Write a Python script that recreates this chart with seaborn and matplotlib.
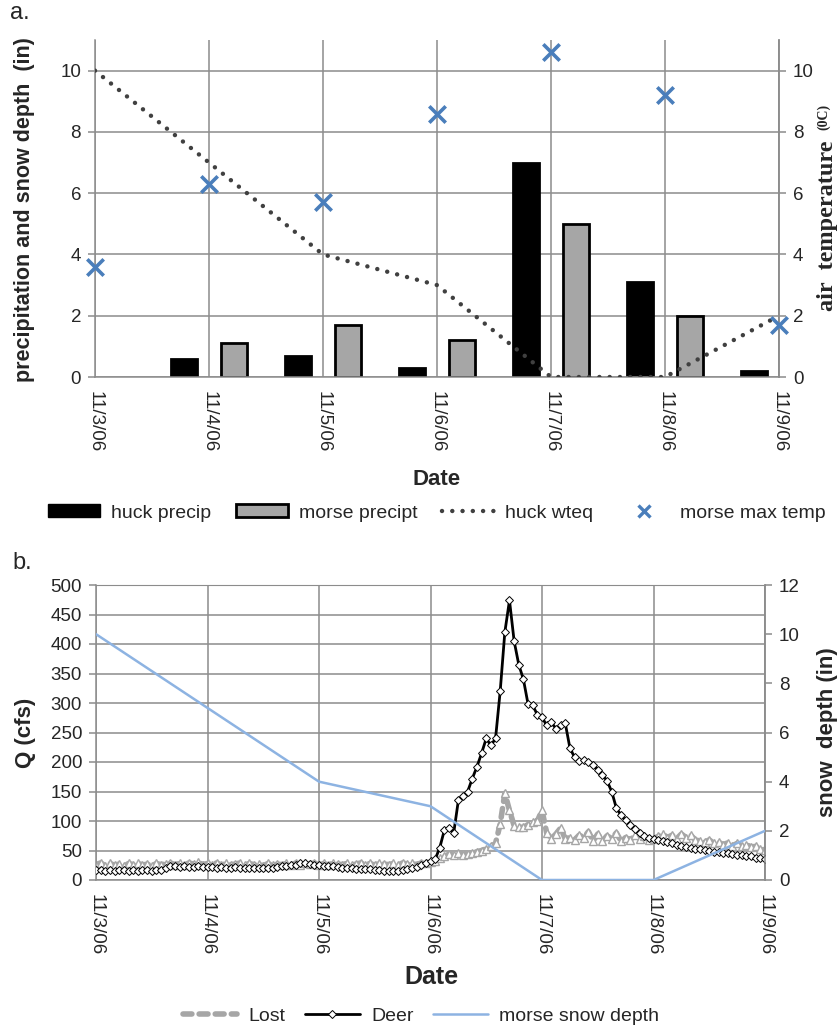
import numpy as np
import pandas as pd
import matplotlib
matplotlib.use("Agg")
import matplotlib.pyplot as plt
from matplotlib.patches import Patch
from matplotlib.lines import Line2D
import seaborn as sns

# ---------------- data ----------------
dates = ["11/3/06", "11/4/06", "11/5/06", "11/6/06", "11/7/06", "11/8/06", "11/9/06"]
huck_precip = [np.nan, 0.6, 0.7, 0.3, 7.0, 3.1, 0.2]
morse_precip = [np.nan, 1.1, 1.7, 1.2, 5.0, 2.0, np.nan]
huck_wteq = [10, 7, 4, 3, 0, 0, 2]
morse_max_temp = [3.6, 6.3, 5.7, 8.6, 10.6, 9.2, 1.7]

morse_snow_depth = [10, 7, 4, 3, 0, 0, 2]

# hourly discharge 11/3/06 00:00 -> 11/9/06 00:00
deer_q = [
    17, 17, 16, 17, 16, 17, 17, 16, 17, 16, 17, 17, 16, 17, 17, 21, 23, 23, 22, 23, 22, 22, 23, 22,
    22, 22, 21, 22, 21, 21, 22, 21, 21, 20, 21, 20, 20, 20, 21, 22, 23, 24, 25, 26, 28, 28, 27, 26,
    25, 24, 24, 23, 22, 21, 21, 20, 19, 19, 18, 18, 17, 17, 16, 16, 16, 16, 17, 18, 20, 22, 25, 28,
    32, 35, 55, 85, 88, 80, 135, 143, 150, 172, 192, 215, 240, 228, 240, 320, 420, 474, 405, 365, 340, 298, 296, 280,
    276, 262, 268, 256, 262, 266, 224, 208, 201, 204, 200, 195, 187, 178, 168, 150, 122, 110, 101, 94, 86, 80, 75, 71,
    70, 68, 66, 64, 62, 60, 58, 56, 55, 53, 52, 51, 49, 48, 47, 46, 45, 44, 43, 42, 41, 40, 38, 37,
    36,
]
lost_q = [
    26, 29, 24, 28, 25, 27, 23, 28, 26, 29, 25, 27, 24, 28, 26, 27, 29, 26, 28, 25, 29, 27, 30, 26,
    28, 26, 29, 25, 28, 26, 27, 29, 25, 28, 26, 27, 24, 28, 25, 27, 26, 28, 25, 29, 26, 28, 27, 29,
    26, 28, 25, 29, 27, 26, 28, 25, 27, 29, 26, 28, 25, 29, 27, 26, 28, 25, 29, 27, 28, 26, 29, 28,
    31, 33, 37, 40, 44, 42, 45, 43, 44, 46, 48, 50, 53, 57, 62, 95, 147, 118, 92, 90, 89, 94, 98, 100,
    118, 80, 70, 78, 88, 70, 72, 68, 76, 72, 82, 66, 78, 66, 75, 70, 80, 66, 72, 68, 76, 70, 74, 68,
    70, 74, 78, 72, 76, 70, 78, 72, 76, 68, 66, 64, 68, 62, 64, 60, 63, 58, 62, 58, 60, 56, 57, 53,
    51,
]
hours = np.arange(len(deer_q))  # hourly time stamps
day_pos = np.arange(len(dates))

# ---------------- style ----------------
sns.set_style("white")
plt.rcParams["font.family"] = ["Liberation Sans", "DejaVu Sans"]
GRID = "#8c8c8c"
BLUE_X = "#4a7ebb"
SNOW = "#8db3e2"
GRAYBAR = "#a6a6a6"

W, H = 839, 1034
fig = plt.figure(figsize=(W / 100, H / 100), dpi=100)

def fx(px):
    return px / W

def fy(py):
    return 1 - py / H

def style_axes(ax, top_visible):
    ax.grid(True, color=GRID, lw=1.1)
    ax.set_axisbelow(True)
    for s in ["left", "right", "bottom"]:
        ax.spines[s].set_color(GRID)
        ax.spines[s].set_linewidth(1.1)
    ax.spines["top"].set_visible(top_visible)
    ax.spines["top"].set_color(GRID)
    ax.tick_params(axis="both", which="both", color=GRID, width=1.1, length=5,
                   labelsize=13.5, pad=5, direction="out")

# ---------------- panel a ----------------
ax1 = fig.add_axes([fx(95), fy(377), fx(779 - 95), fy(40) - fy(377)])
bar_df = pd.DataFrame({
    "pos": np.concatenate([day_pos, day_pos]).astype(float),
    "value": huck_precip + morse_precip,
    "series": ["huck precip"] * len(dates) + ["morse precipt"] * len(dates),
}).dropna()
sns.barplot(data=bar_df, x="pos", y="value", hue="series", native_scale=True,
            palette={"huck precip": "black", "morse precipt": GRAYBAR},
            hue_order=["huck precip", "morse precipt"],
            width=0.88, gap=0.48, edgecolor="black", linewidth=2.0,
            legend=False, ax=ax1, zorder=2)
sns.lineplot(x=day_pos, y=huck_wteq, ax=ax1, color="#404040", lw=3.2,
             linestyle=(0, (0.01, 2.3)), dash_capstyle="round", zorder=3)
ax1.set_xlim(0, 6)
ax1.set_ylim(0, 11)
ax1.set_yticks([0, 2, 4, 6, 8, 10])
ax1.set_xticks(day_pos)
ax1.set_xticklabels(dates, rotation=270, va="top", ha="center")
ax1.set_xlabel("")
ax1.set_ylabel("")
style_axes(ax1, False)

ax1b = ax1.twinx()
sns.scatterplot(x=day_pos, y=morse_max_temp, ax=ax1b, marker="x", s=140,
                color=BLUE_X, linewidth=2.6, zorder=4, clip_on=False)
ax1b.set_ylim(0, 11)
ax1b.set_yticks([0, 2, 4, 6, 8, 10])
ax1b.set_xlim(0, 6)
for s in ["left", "top", "bottom"]:
    ax1b.spines[s].set_visible(False)
ax1b.spines["right"].set_color(GRID)
ax1b.spines["right"].set_linewidth(1.1)
ax1b.tick_params(axis="y", color=GRID, width=1.1, length=5, labelsize=13.5, pad=5)
ax1b.set_ylabel("")

fig.text(fx(25), fy(210), "precipitation and snow depth  (in)", rotation=90,
         ha="center", va="center", fontsize=15.5, fontweight="bold")
fig.text(fx(828), fy(226), "air  temperature", rotation=90, ha="center", va="center",
         fontsize=17.5, fontweight="bold", family=["Liberation Serif", "DejaVu Serif"])
fig.text(fx(824), fy(117), "(0C)", rotation=90, ha="center", va="center",
         fontsize=10, fontweight="bold", family=["Liberation Serif", "DejaVu Serif"])
fig.text(fx(437), fy(480), "Date", ha="center", va="center", fontsize=16, fontweight="bold")
fig.text(fx(10), fy(2), "a.", ha="left", va="top", fontsize=17)

leg1 = [
    Patch(facecolor="black", edgecolor="black"),
    Patch(facecolor=GRAYBAR, edgecolor="black", linewidth=2),
    Line2D([], [], color="#404040", lw=3.2, linestyle=(0, (0.01, 2.3)), dash_capstyle="round"),
    Line2D([], [], color=BLUE_X, lw=0, marker="x", markersize=9, markeredgewidth=2.4),
]
fig.legend(leg1, ["huck precip", "morse precipt", "huck wteq", "morse max temp"],
           loc="center", bbox_to_anchor=(fx(437), fy(513)), ncol=4, frameon=False,
           fontsize=14, handlelength=2.7, handleheight=0.62, columnspacing=1.25,
           handletextpad=0.55)

# ---------------- panel b ----------------
ax2 = fig.add_axes([fx(96), fy(880), fx(765 - 96), fy(585) - fy(880)])
t_days = hours / 24.0
sns.lineplot(x=t_days, y=lost_q, ax=ax2, color=GRAYBAR, lw=4,
             linestyle=(0, (1.6, 1.3)), dash_capstyle="round",
             marker="^", markersize=6, markerfacecolor="white",
             markeredgecolor=GRAYBAR, markeredgewidth=1.0, zorder=2)
sns.lineplot(x=t_days, y=deer_q, ax=ax2, color="black", lw=2,
             marker="D", markersize=3.6, markerfacecolor="white",
             markeredgecolor="black", markeredgewidth=0.7, zorder=3)
ax2.set_xlim(0, 6)
ax2.set_ylim(0, 500)
ax2.set_yticks(np.arange(0, 501, 50))
ax2.set_xticks(day_pos)
ax2.set_xticklabels(dates, rotation=270, va="top", ha="center")
ax2.set_xlabel("")
ax2.set_ylabel("")
style_axes(ax2, True)

ax2b = ax2.twinx()
sns.lineplot(x=day_pos, y=morse_snow_depth, ax=ax2b, color=SNOW, lw=1.8, zorder=4)
ax2b.set_ylim(0, 12)
ax2b.set_yticks([0, 2, 4, 6, 8, 10, 12])
ax2b.set_xlim(0, 6)
for s in ["left", "top", "bottom"]:
    ax2b.spines[s].set_visible(False)
ax2b.spines["right"].set_color(GRID)
ax2b.spines["right"].set_linewidth(1.1)
ax2b.tick_params(axis="y", color=GRID, width=1.1, length=5, labelsize=13.5, pad=5)
ax2b.set_ylabel("")

fig.text(fx(25), fy(733), "Q (cfs)", rotation=90, ha="center", va="center",
         fontsize=16, fontweight="bold")
fig.text(fx(828), fy(732), "snow  depth (in)", rotation=90, ha="center", va="center",
         fontsize=16, fontweight="bold")
fig.text(fx(431), fy(977), "Date", ha="center", va="center", fontsize=18, fontweight="bold")
fig.text(fx(12), fy(552), "b.", ha="left", va="top", fontsize=17)

leg2 = [
    Line2D([], [], color=GRAYBAR, lw=4, linestyle=(0, (1.6, 1.3)), dash_capstyle="round"),
    Line2D([], [], color="black", lw=2, marker="D", markersize=3.6, markerfacecolor="white",
           markeredgecolor="black", markeredgewidth=0.7),
    Line2D([], [], color=SNOW, lw=1.8),
]
fig.legend(leg2, ["Lost", "Deer", "morse snow depth"], loc="center",
           bbox_to_anchor=(fx(421), fy(1016)), ncol=3, frameon=False, fontsize=14,
           handlelength=2.8, columnspacing=1.0, handletextpad=0.6, numpoints=1)

fig.savefig("out.png", dpi=100)
